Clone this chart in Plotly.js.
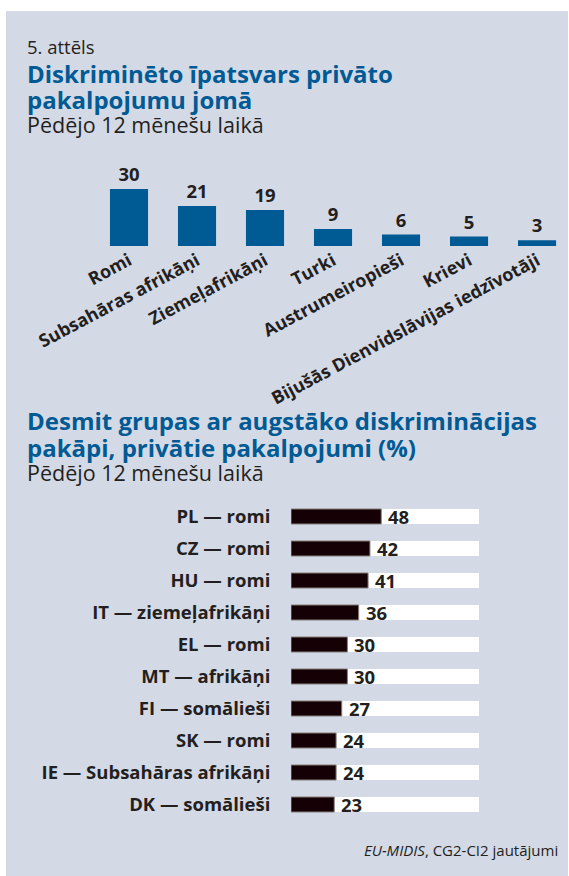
<!DOCTYPE html>
<html>
<head>
<meta charset="utf-8">
<script src="https://cdn.plot.ly/plotly-3.0.1.min.js"></script>
<style>html,body{margin:0;padding:0;background:#fff;}#chart{width:569px;height:876px;}</style>
</head>
<body>
<div id="chart"></div>
<script>
// ---- Data ----
const groups = ["Romi", "Subsahāras afrikāņi", "Ziemeļafrikāņi", "Turki", "Austrumeiropieši", "Krievi", "Bijušās Dienvidslāvijas iedzīvotāji"];
const groupValues = [30, 21, 19, 9, 6, 5, 3];

const topGroups = ["PL — romi", "CZ — romi", "HU — romi", "IT — ziemeļafrikāņi", "EL — romi", "MT — afrikāņi", "FI — somālieši", "SK — romi", "IE — Subsahāras afrikāņi", "DK — somālieši"];
const topValues = [48, 42, 41, 36, 30, 30, 27, 24, 24, 23];
const trackValues = [100, 100, 100, 100, 100, 100, 100, 100, 100, 100];

// ---- Layout helpers ----
const W = 569, H = 876;
const px = x => x / W;
const py = y => 1 - y / H;
const FONT = "Open Sans, sans-serif";
const BLUE = "#005a94";
const DARK = "#231f20";

const traces = [
  {
    type: "bar", x: groups, y: groupValues, xaxis: "x", yaxis: "y",
    marker: {color: BLUE}, width: 0.56,
    text: groupValues.map(String), textposition: "outside", constraintext: "none",
    textfont: {family: FONT, size: 18.5, color: DARK, weight: "bold"},
    cliponaxis: false, hoverinfo: "none"
  },
  {
    type: "bar", orientation: "h", x: trackValues, y: topGroups, xaxis: "x2", yaxis: "y2",
    marker: {color: "#ffffff"}, width: 0.47, hoverinfo: "none"
  },
  {
    type: "bar", orientation: "h", x: topValues, y: topGroups, xaxis: "x2", yaxis: "y2",
    marker: {color: "#140005", line: {color: "#8a8080", width: 1}}, width: 0.47,
    hoverinfo: "none"
  }
];

function ann(text, x, y, size, color, opts) {
  return Object.assign({
    text: text, x: px(x), y: py(y), xref: "paper", yref: "paper",
    xanchor: "left", yanchor: "middle", showarrow: false,
    font: {family: FONT, size: size, color: color}
  }, opts || {});
}

const valueAnns = topValues.map((v, i) => ({
  text: "<b>" + v + "</b>", x: v, y: topGroups[i], xref: "x2", yref: "y2",
  xanchor: "left", yanchor: "middle", xshift: 5, showarrow: false,
  font: {family: FONT, size: 18.5, color: DARK}
}));

const layout = {
  width: W, height: H,
  margin: {l: 0, r: 0, t: 0, b: 0},
  paper_bgcolor: "#ffffff", plot_bgcolor: "rgba(0,0,0,0)",
  showlegend: false, barmode: "overlay",
  font: {family: FONT, color: DARK},
  shapes: [
    {type: "rect", xref: "paper", yref: "paper", x0: px(6), x1: px(568), y0: 0, y1: py(11),
     fillcolor: "#d4d9e6", line: {width: 0}, layer: "below"}
  ],
  xaxis: {
    domain: [px(95), 1], range: [-0.5, 6.47], type: "category",
    showgrid: false, zeroline: false, showline: false, ticks: "",
    tickangle: -28, tickfont: {family: FONT, size: 18, color: DARK, weight: "bold"},
    fixedrange: true
  },
  yaxis: {
    domain: [py(246), py(170)], range: [0, 40],
    showgrid: false, zeroline: false, showline: false, showticklabels: false, fixedrange: true
  },
  xaxis2: {
    domain: [px(291), px(479)], range: [0, 100], anchor: "y2",
    showgrid: false, zeroline: false, showline: false, showticklabels: false, fixedrange: true
  },
  yaxis2: {
    domain: [py(820.5), py(500.5)], range: [9.5, -0.5], type: "category", anchor: "x2",
    showgrid: false, zeroline: false, showline: false,
    ticks: "outside", ticklen: 16, tickcolor: "rgba(0,0,0,0)",
    tickfont: {family: FONT, size: 18.5, color: DARK, weight: "bold"}, fixedrange: true
  },
  annotations: [
    ann("5. attēls", 25, 47, 18.5, DARK),
    ann("<b>Diskriminēto īpatsvars privāto</b>", 25, 73, 24, BLUE),
    ann("<b>pakalpojumu jomā</b>", 25, 99, 24, BLUE),
    ann("Pēdējo 12 mēnešu laikā", 25, 124, 21.5, DARK),
    ann("<b>Desmit grupas ar augstāko diskriminācijas</b>", 25, 421, 24, BLUE),
    ann("<b>pakāpi, privātie pakalpojumi (%)</b>", 25, 447, 24, BLUE),
    ann("Pēdējo 12 mēnešu laikā", 25, 472, 21.5, DARK),
    ann("<i>EU-MIDIS</i>, CG2-CI2 jautājumi", 560, 850, 15, DARK, {xanchor: "right"})
  ].concat(valueAnns)
};

Plotly.newPlot("chart", traces, layout, {displayModeBar: false, staticPlot: true});
</script>
</body>
</html>
